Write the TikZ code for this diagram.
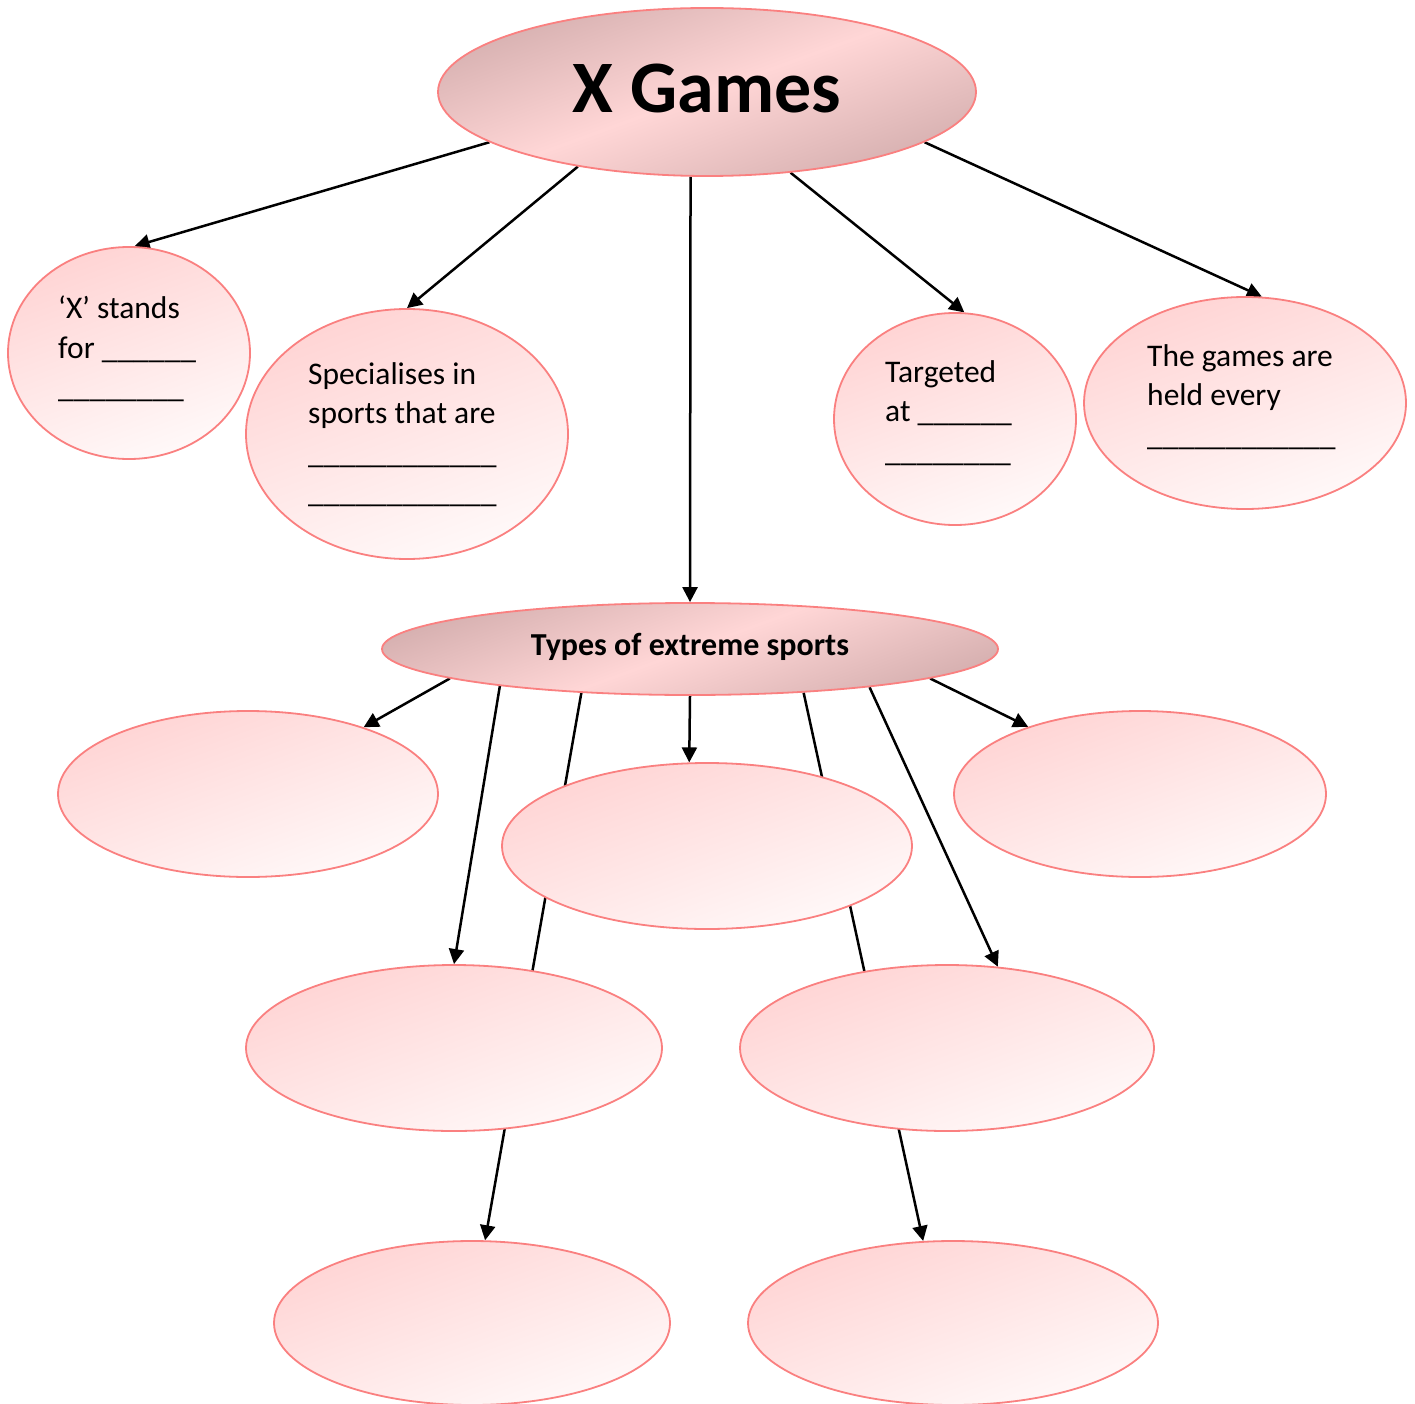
\documentclass[tikz,border=0pt]{standalone}
\usepackage{fontspec}
\setmainfont{Carlito}
\usetikzlibrary{shapes.geometric,arrows.meta,backgrounds}
\definecolor{bord}{RGB}{250,128,128}
\definecolor{pinkA}{RGB}{255,212,212}
\definecolor{pinkB}{RGB}{255,249,249}
\definecolor{hdark}{RGB}{214,176,176}
\definecolor{hmid}{RGB}{255,214,214}
\begin{document}
\begin{tikzpicture}[x=1pt,y=-1pt,
  bubble/.style={ellipse, draw=bord, line width=1.8pt, inner sep=0pt,
    top color=pinkA, bottom color=pinkB, shading angle=20},
  header/.style={ellipse, draw=bord, line width=1.8pt, inner sep=0pt,
    top color=hdark, bottom color=hdark, middle color=hmid, shading angle=20},
  btext/.style={inner sep=0pt, align=left, font=\fontsize{31.5}{39.5}\selectfont},
  conn/.style={line width=2.5pt, -{Triangle[length=15pt,width=15pt]}}
]
\useasboundingbox (0,0) rectangle (1415,1404);

\node[header, minimum width=538pt, minimum height=168pt] (xg) at (707,92) {};
\node[inner sep=0pt, anchor=base, font=\bfseries\fontsize{74}{80}\selectfont] (xgt) at (707,113) {X Games};

\node[bubble, minimum width=242pt, minimum height=212pt] (xs) at (129,353) {};
\node[bubble, minimum width=322pt, minimum height=250pt] (sp) at (407,434) {};
\node[bubble, minimum width=242pt, minimum height=212pt] (tg) at (955,419) {};
\node[bubble, minimum width=322pt, minimum height=212pt] (ge) at (1245,403) {};

\node[btext, anchor=north west] (xst) at (58,296)
  {‘X’ stands\\for \_\_\_\_\_\_\\\_\_\_\_\_\_\_\_};
\node[btext, anchor=north west] (spt) at (308,362)
  {Specialises in\\sports that are\\\_\_\_\_\_\_\_\_\_\_\_\_\\\_\_\_\_\_\_\_\_\_\_\_\_};
\node[btext, anchor=north west] (tgt) at (885,360)
  {Targeted\\at \_\_\_\_\_\_\\\_\_\_\_\_\_\_\_};
\node[btext, anchor=north west] (get) at (1147,344)
  {The games are\\held every\\\_\_\_\_\_\_\_\_\_\_\_\_};

\node[header, minimum width=616pt, minimum height=92pt] (ty) at (690,649) {};
\node[inner sep=0pt, anchor=base, font=\bfseries\fontsize{32}{38}\selectfont] (tyt) at (690,655) {Types of extreme sports};

\node[bubble, minimum width=380pt, minimum height=166pt] (sa) at (248,794) {};
\node[bubble, minimum width=410pt, minimum height=166pt] (sb) at (707,846) {};
\node[bubble, minimum width=372pt, minimum height=166pt] (sc) at (1140,794) {};
\node[bubble, minimum width=416pt, minimum height=166pt] (sd) at (454,1048) {};
\node[bubble, minimum width=414pt, minimum height=166pt] (se) at (947,1048) {};
\node[bubble, minimum width=396pt, minimum height=164pt] (sf) at (472,1323) {};
\node[bubble, minimum width=410pt, minimum height=164pt] (sg) at (953,1323) {};

\begin{scope}[on background layer]
\draw[conn] (xg.193) -- (xs.87);
\draw[conn] (xg.210) -- (sp.90);
\draw[conn] (xg.259) -- (ty.90);
\draw[conn] (xg.316) -- (tg.85);
\draw[conn] (xg.347) -- (ge.81);
\draw[conn] (ty.187) -- (sa.30);
\draw[conn] (ty.191) -- (sd.90);
\draw[conn] (ty.202) -- (sf.81);
\draw[conn] (ty.270) -- (sb.102);
\draw[conn] (ty.339) -- (sg.110);
\draw[conn] (ty.348) -- (se.58);
\draw[conn] (ty.353) -- (sc.149);
\end{scope}
\end{tikzpicture}
\end{document}
